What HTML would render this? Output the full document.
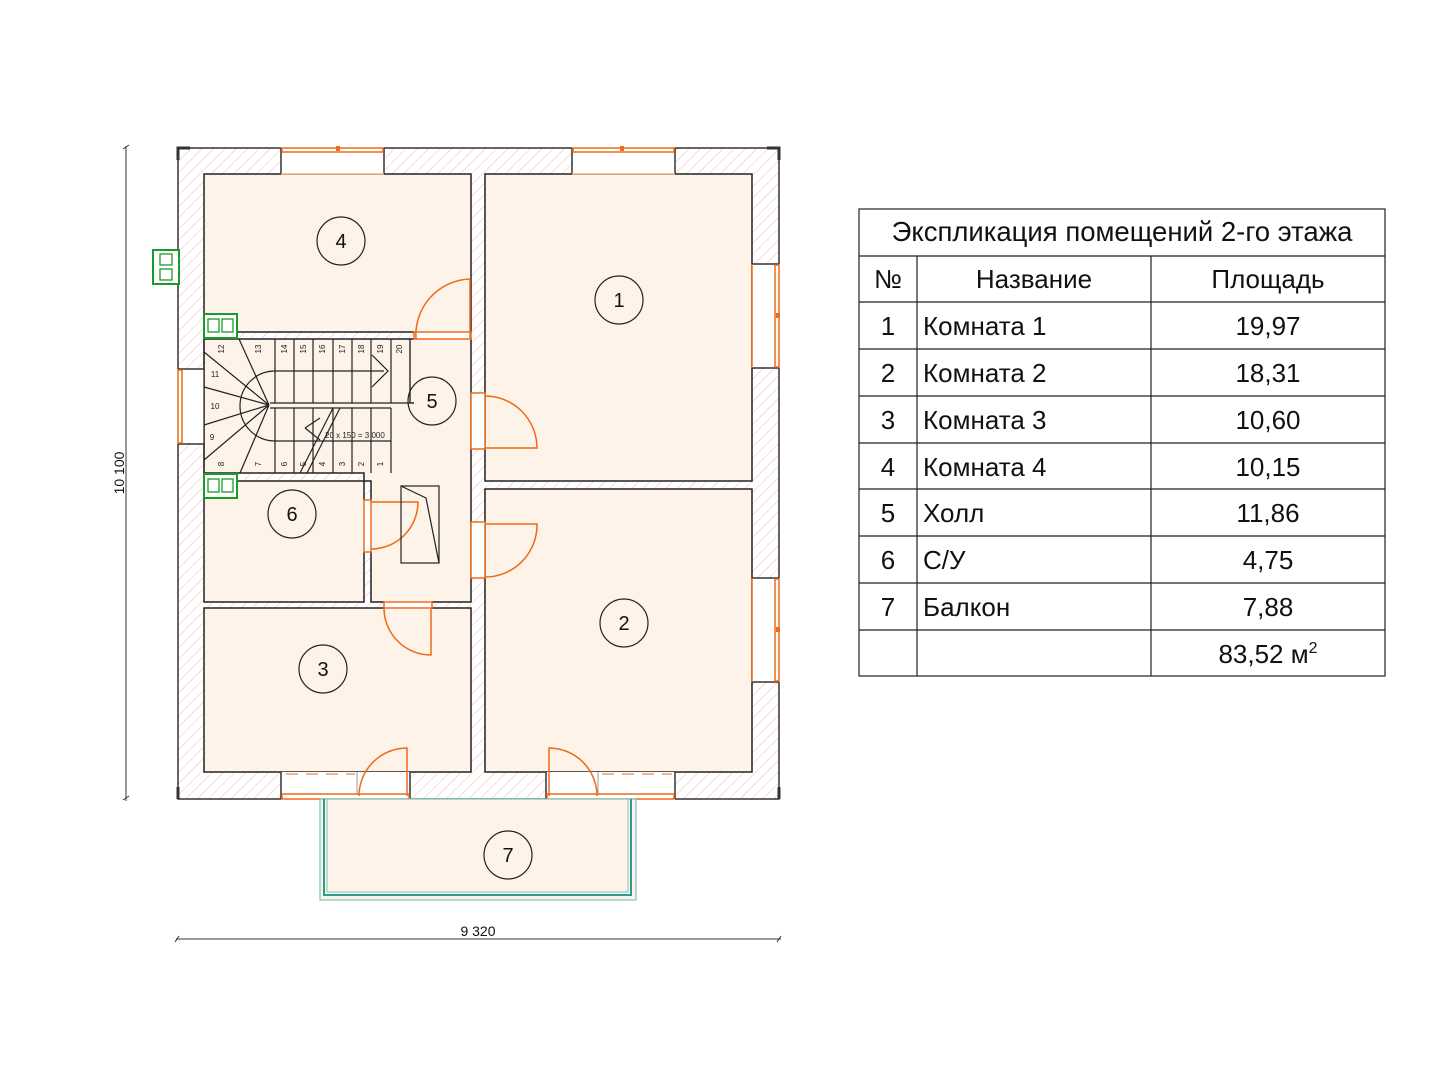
<!DOCTYPE html>
<html><head><meta charset="utf-8"><style>
html,body{margin:0;padding:0;background:#fff;}
svg{display:block;}
</style></head><body>
<svg width="1440" height="1080" viewBox="0 0 1440 1080" xmlns="http://www.w3.org/2000/svg" font-family="Liberation Sans, sans-serif">
<defs>
<pattern id="h" patternUnits="userSpaceOnUse" width="8" height="8" patternTransform="rotate(45)">
<rect width="8" height="8" fill="#fff"/>
<line x1="0" y1="0" x2="0" y2="8" stroke="#f0b8b8" stroke-width="1"/>
</pattern>
</defs>
<rect x="178" y="148" width="601" height="651" fill="url(#h)" stroke="#333" stroke-width="1.5"/>
<g fill="#fdf3e9" stroke="#222" stroke-width="1.5">
<rect x="204" y="174" width="267" height="158"/>
<rect x="485" y="174" width="267" height="307"/>
<rect x="485" y="489" width="267" height="283"/>
<rect x="204" y="608" width="267" height="164"/>
<rect x="204" y="481" width="160" height="121"/>
<path d="M204,339 H471 V602 H371 V481 H364 V473 H204 Z"/>
</g>
<path d="M178,160 V148 H190" stroke="#333" stroke-width="3" fill="none"/>
<path d="M767,148 H779 V160" stroke="#333" stroke-width="3" fill="none"/>
<path d="M178,787 V799" stroke="#333" stroke-width="3"/>
<path d="M779,787 V799" stroke="#333" stroke-width="3"/>
<g fill="#fff" stroke="none">
<rect x="281" y="147" width="103" height="27"/>
<rect x="572" y="147" width="103" height="27"/>
<rect x="752" y="264" width="28" height="104"/>
<rect x="752" y="578" width="28" height="104"/>
<rect x="177" y="369" width="27" height="75"/>
<rect x="281" y="772" width="129" height="28"/>
<rect x="546" y="772" width="129" height="28"/>
<rect x="471" y="393" width="14" height="56"/>
<rect x="471" y="522" width="14" height="56"/>
<rect x="414" y="331" width="57" height="9"/>
<rect x="363" y="500" width="9" height="52"/>
<rect x="384" y="601" width="48" height="8"/>
</g>
<g stroke="#333" stroke-width="1.5">
<line x1="281" y1="148" x2="281" y2="174"/><line x1="384" y1="148" x2="384" y2="174"/>
<line x1="572" y1="148" x2="572" y2="174"/><line x1="675" y1="148" x2="675" y2="174"/>
<line x1="752" y1="264" x2="779" y2="264"/><line x1="752" y1="368" x2="779" y2="368"/>
<line x1="752" y1="578" x2="779" y2="578"/><line x1="752" y1="682" x2="779" y2="682"/>
<line x1="178" y1="369" x2="204" y2="369"/><line x1="178" y1="444" x2="204" y2="444"/>
<line x1="281" y1="772" x2="281" y2="799"/><line x1="410" y1="772" x2="410" y2="799"/>
<line x1="546" y1="772" x2="546" y2="799"/><line x1="675" y1="772" x2="675" y2="799"/>
<line x1="357" y1="772" x2="357" y2="794" stroke="#999" stroke-width="1"/>
<line x1="598" y1="772" x2="598" y2="794" stroke="#999" stroke-width="1"/>
</g>
<g stroke="#f5b48a" stroke-width="2" stroke-dasharray="12,8">
<line x1="286" y1="774" x2="355" y2="774"/>
<line x1="602" y1="774" x2="672" y2="774"/>
</g>
<g stroke="#ee6a1a" stroke-width="1.5" fill="none">
<rect x="282" y="148" width="101" height="4"/>
<rect x="573" y="148" width="101" height="4"/>
<rect x="775" y="265" width="4" height="102"/>
<rect x="775" y="579" width="4" height="102"/>
<rect x="178" y="370" width="4" height="73"/>
<rect x="282" y="794" width="127" height="5"/>
<rect x="547" y="794" width="127" height="5"/>
<line x1="281" y1="174" x2="384" y2="174" stroke="#f0b080"/>
<line x1="572" y1="174" x2="675" y2="174" stroke="#f0b080"/>
<line x1="752" y1="264" x2="752" y2="368"/>
<line x1="752" y1="578" x2="752" y2="682"/>
<rect x="414" y="332" width="57" height="7"/>
<path d="M470,339 V279 A56,56 0 0 0 416,339"/>
<rect x="471" y="393" width="14" height="56"/>
<path d="M485,448 H537 A52,52 0 0 0 485,396"/>
<rect x="471" y="522" width="14" height="56"/>
<path d="M485,524 H537 A52,52 0 0 1 485,577"/>
<rect x="364" y="500" width="7" height="52"/>
<path d="M371,502 H418 A47,47 0 0 1 371,549"/>
<rect x="384" y="602" width="48" height="6"/>
<path d="M431,608 V655 A47,47 0 0 1 384,608"/>
<path d="M407,796 V748 A48,48 0 0 0 359,796"/>
<path d="M549,796 V748 A48,48 0 0 1 597,796"/>
</g>
<g fill="#ee6a1a"><rect x="336" y="146" width="4" height="5"/><rect x="620" y="146" width="4" height="5"/><rect x="776" y="313" width="4" height="5"/><rect x="776" y="627" width="4" height="5"/></g>
<rect x="320" y="799" width="316" height="101" fill="#fdf3e9" stroke="#7cc6bd" stroke-width="1.2"/>
<path d="M324,799 V895 H631 V799" fill="none" stroke="#2a9d8f" stroke-width="2"/>
<path d="M327,799 V892 H628 V799" fill="none" stroke="#7cc6bd" stroke-width="1"/>
<g stroke="#222" stroke-width="1.2" fill="none">
<path d="M275,339 V403 M294,339 V403 M313,339 V403 M333,339 V403 M352,339 V403 M371,339 V403 M391,339 V403 M410,339 V403"/>
<path d="M275,408 V473 M294,408 V473 M313,408 V473 M333,408 V473 M352,408 V473 M371,408 V473 M391,408 V473"/>
<path d="M270,403 H414 M270,408 H391"/>
<path d="M204,339 V473"/>
<path d="M410,339 V403 H414"/>
<path d="M269,405 L239,339 M269,405 L204,352 M269,405 L204,387 M269,405 L204,425 M269,405 L204,460 M269,405 L240,473"/>
<path d="M384,371 H275 A35,35 0 0 0 275,441 H391"/>
<path d="M372,355 L388,371 L372,387"/>
<path d="M333,408 L300,473 M340,408 L307,473"/>
<path d="M305,428 L320,418 M305,428 L320,440"/>
<rect x="401" y="486" width="38" height="77"/>
<path d="M401,486 L426,498 L439,563"/>
</g>
<g font-size="8" fill="#222">
<text x="325" y="438">20 x 150 = 3 000</text>
</g>
<g font-size="8" fill="#222" text-anchor="middle">
<text transform="translate(224,349) rotate(-90)">12</text>
<text transform="translate(261,349) rotate(-90)">13</text>
<text transform="translate(287,349) rotate(-90)">14</text>
<text transform="translate(306,349) rotate(-90)">15</text>
<text transform="translate(325,349) rotate(-90)">16</text>
<text transform="translate(345,349) rotate(-90)">17</text>
<text transform="translate(364,349) rotate(-90)">18</text>
<text transform="translate(383,349) rotate(-90)">19</text>
<text transform="translate(402,349) rotate(-90)">20</text>
<text transform="translate(224,464) rotate(-90)">8</text>
<text transform="translate(261,464) rotate(-90)">7</text>
<text transform="translate(287,464) rotate(-90)">6</text>
<text transform="translate(306,464) rotate(-90)">5</text>
<text transform="translate(325,464) rotate(-90)">4</text>
<text transform="translate(345,464) rotate(-90)">3</text>
<text transform="translate(364,464) rotate(-90)">2</text>
<text transform="translate(383,464) rotate(-90)">1</text>
<text x="215" y="377">11</text>
<text x="215" y="409">10</text>
<text x="212" y="440">9</text>
</g>
<g stroke="#1a9a2a" fill="#fff" stroke-width="2">
<rect x="153" y="250" width="26" height="34"/><rect x="160" y="254" width="12" height="11" stroke-width="1.3"/><rect x="160" y="269" width="12" height="11" stroke-width="1.3"/>
<rect x="204" y="314" width="33" height="24"/><rect x="208" y="319" width="11" height="13" stroke-width="1.3"/><rect x="222" y="319" width="11" height="13" stroke-width="1.3"/>
<rect x="204" y="474" width="33" height="24"/><rect x="208" y="479" width="11" height="13" stroke-width="1.3"/><rect x="222" y="479" width="11" height="13" stroke-width="1.3"/>
</g>
<g fill="none" stroke="#222" stroke-width="1.2">
<circle cx="341" cy="241" r="24"/><circle cx="619" cy="300" r="24"/><circle cx="432" cy="401" r="24"/>
<circle cx="292" cy="514" r="24"/><circle cx="624" cy="623" r="24"/><circle cx="323" cy="669" r="24"/><circle cx="508" cy="855" r="24"/>
</g>
<g font-size="20" fill="#111" text-anchor="middle">
<text x="341" y="248">4</text><text x="619" y="307">1</text><text x="432" y="408">5</text>
<text x="292" y="521">6</text><text x="624" y="630">2</text><text x="323" y="676">3</text><text x="508" y="862">7</text>
</g>
<g stroke="#333" stroke-width="1">
<line x1="126" y1="146" x2="126" y2="801"/><line x1="123" y1="149" x2="129" y2="145"/><line x1="123" y1="800" x2="129" y2="796"/>
<line x1="176" y1="939" x2="781" y2="939"/><line x1="175" y1="942" x2="179" y2="936"/><line x1="777" y1="942" x2="781" y2="936"/>
</g>
<text x="478" y="936" font-size="14" text-anchor="middle" fill="#111">9 320</text>
<text transform="translate(124,473) rotate(-90)" font-size="14" text-anchor="middle" fill="#111">10 100</text>
<g stroke="#222" stroke-width="1.2" fill="none">
<rect x="859" y="209" width="526" height="467"/>
<path d="M859,256 H1385 M859,302 H1385 M859,349 H1385 M859,396 H1385 M859,443 H1385 M859,489 H1385 M859,536 H1385 M859,583 H1385 M859,630 H1385"/>
<path d="M917,256 V676 M1151,256 V676"/>
</g>
<g font-size="26" fill="#111">
<text x="1122" y="241" text-anchor="middle" font-size="27.5">Экспликация помещений 2-го этажа</text>
<text x="888" y="288" text-anchor="middle">№</text>
<text x="1034" y="288" text-anchor="middle">Название</text>
<text x="1268" y="288" text-anchor="middle">Площадь</text>
<g text-anchor="middle">
<text x="888" y="335">1</text><text x="888" y="382">2</text><text x="888" y="429">3</text><text x="888" y="476">4</text><text x="888" y="522">5</text><text x="888" y="569">6</text><text x="888" y="616">7</text>
<text x="1268" y="335">19,97</text><text x="1268" y="382">18,31</text><text x="1268" y="429">10,60</text><text x="1268" y="476">10,15</text><text x="1268" y="522">11,86</text><text x="1268" y="569">4,75</text><text x="1268" y="616">7,88</text>
<text x="1268" y="663">83,52 м<tspan font-size="16" dy="-10">2</tspan></text>
</g>
<text x="923" y="335">Комната 1</text><text x="923" y="382">Комната 2</text><text x="923" y="429">Комната 3</text><text x="923" y="476">Комната 4</text><text x="923" y="522">Холл</text><text x="923" y="569">С/У</text><text x="923" y="616">Балкон</text>
</g>
</svg>
</body></html>
